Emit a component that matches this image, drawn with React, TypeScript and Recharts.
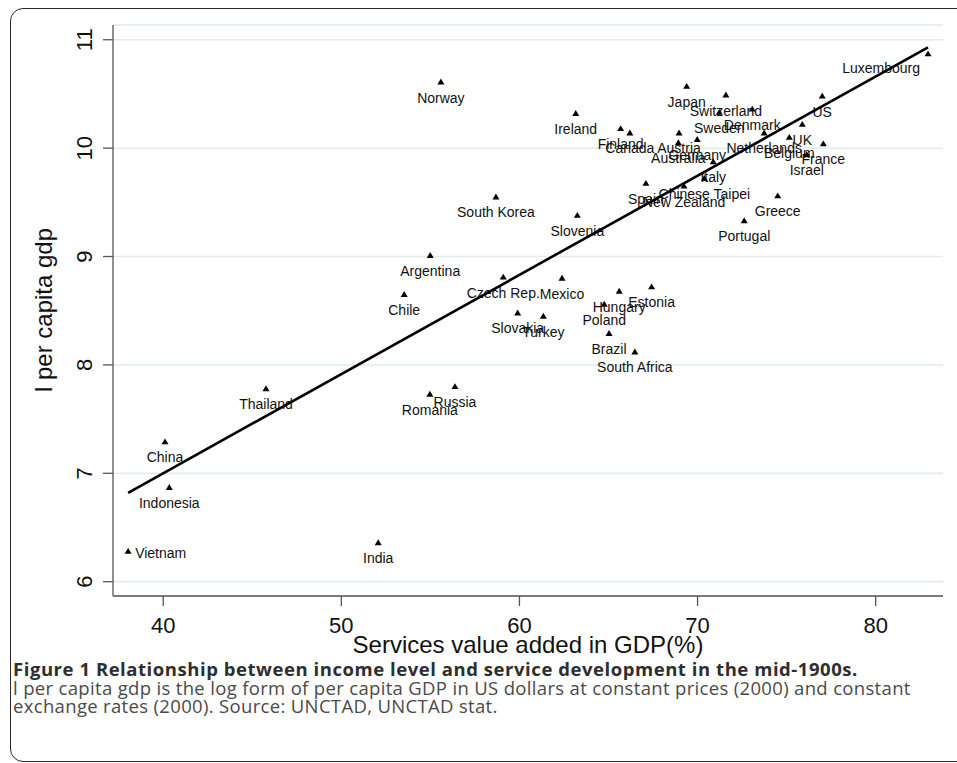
import React from 'react';
import { ScatterChart, Scatter, XAxis, YAxis, CartesianGrid } from 'recharts';

const countries = [
  'Luxembourg', 'Norway', 'Japan', 'Switzerland', 'Denmark', 'Sweden', 'Ireland', 'Finland',
  'Canada', 'Austria', 'Australia', 'Germany', 'Netherlands', 'Italy', 'Chinese Taipei',
  'New Zealand', 'Spain', 'US', 'UK', 'Belgium', 'France', 'Israel', 'Greece', 'Portugal',
  'South Korea', 'Slovenia', 'Argentina', 'Chile', 'Czech Rep.', 'Mexico', 'Hungary',
  'Estonia', 'Poland', 'Slovakia', 'Turkey', 'Brazil', 'South Africa', 'Thailand', 'Russia',
  'Romania', 'China', 'Indonesia', 'Vietnam', 'India',
];

const servicesShare = [
  82.94, 55.59, 69.39, 71.59, 73.07, 71.22, 63.16, 65.68,
  66.2, 68.96, 68.92, 69.98, 73.74, 70.88, 70.38,
  69.24, 67.1, 77.0, 75.88, 75.15, 77.06, 76.13, 74.5, 72.62,
  58.68, 63.25, 54.99, 53.53, 59.09, 62.39, 65.6,
  67.42, 64.76, 59.9, 61.34, 65.03, 66.48, 45.77, 56.38,
  54.97, 40.1, 40.34, 38.03, 52.07,
];

const logGdp = [
  10.87, 10.61, 10.57, 10.49, 10.36, 10.33, 10.32, 10.18,
  10.14, 10.14, 10.05, 10.08, 10.14, 9.875, 9.72,
  9.65, 9.675, 10.48, 10.22, 10.1, 10.04, 9.94, 9.56, 9.33,
  9.55, 9.38, 9.01, 8.65, 8.81, 8.8, 8.68,
  8.72, 8.56, 8.48, 8.45, 8.29, 8.12, 7.78, 7.8,
  7.73, 7.29, 6.87, 6.28, 6.36,
];

const fitX = [38.03, 82.94];
const fitY = [6.82, 10.93];

const xTicks = [40, 50, 60, 70, 80];
const yTicks = [6, 7, 8, 9, 10, 11];

const labelSide: Record<string, string> = { Vietnam: 'right', Luxembourg: 'left' };

const SANS = '"Liberation Sans", Arial, Helvetica, sans-serif';
const CAP = '"Open Sans", "Noto Sans", sans-serif';

const XTick = (props: any) => {
  const { x, y, payload } = props;
  return (
    <text x={x} y={y + 25} textAnchor="middle" fontFamily={SANS} fontSize={22} fill="#111">
      {payload.value}
    </text>
  );
};

const YTick = (props: any) => {
  const { x, y, payload } = props;
  const px = x - 9;
  return (
    <text x={px} y={y} textAnchor="middle" transform={`rotate(-90 ${px} ${y})`} fontFamily={SANS} fontSize={22} fill="#111">
      {payload.value}
    </text>
  );
};

const Marker = (props: any) => {
  const { cx, cy, payload } = props;
  if (cx == null || cy == null) return <g />;
  const side = labelSide[payload.name];
  let label;
  if (side === 'right') {
    label = (
      <text x={cx + 7} y={cy + 7} textAnchor="start" fontFamily={SANS} fontSize={14} fill="#111">{payload.name}</text>
    );
  } else if (side === 'left') {
    label = (
      <text x={cx - 8} y={cy + 19} textAnchor="end" fontFamily={SANS} fontSize={14} fill="#111">{payload.name}</text>
    );
  } else {
    label = (
      <text x={cx} y={cy + 20.5} textAnchor="middle" fontFamily={SANS} fontSize={14} fill="#111">{payload.name}</text>
    );
  }
  return (
    <g>
      <polygon points={`${cx},${cy - 3.4} ${cx - 3.5},${cy + 2.5} ${cx + 3.5},${cy + 2.5}`} fill="#000" />
      {label}
    </g>
  );
};

export default function App() {
  const points = countries.map((name, i) => ({ name, x: servicesShare[i], y: logGdp[i] }));
  const fit = fitX.map((x, i) => ({ x, y: fitY[i] }));
  return (
    <div style={{ position: 'absolute', left: 0, top: 0, width: 957, height: 763, overflow: 'hidden', background: '#fff' }}>
      <div
        style={{
          position: 'absolute', left: 10, top: 8, width: 990, height: 754,
          border: '1.5px solid #2a2a2a', borderRadius: 13, boxSizing: 'border-box',
        }}
      />
      <div style={{ position: 'absolute', left: 0, top: 0 }}>
        <ScatterChart width={957} height={763} margin={{ top: 25, right: 14, bottom: 137, left: 53 }}>
          <CartesianGrid horizontal vertical={false} stroke="#e2ebee" strokeWidth={1.5} />
          <XAxis
            type="number"
            dataKey="x"
            domain={[37.18, 83.78]}
            ticks={xTicks}
            allowDataOverflow
            height={30}
            tickSize={10}
            tickMargin={2}
            tick={<XTick />}
            axisLine={{ stroke: '#555', strokeWidth: 1.3 }}
            tickLine={{ stroke: '#555', strokeWidth: 1.3 }}
          />
          <YAxis
            type="number"
            dataKey="y"
            domain={[5.868, 11.136]}
            ticks={yTicks}
            allowDataOverflow
            width={60}
            tickSize={10}
            tickMargin={2}
            tick={<YTick />}
            axisLine={{ stroke: '#555', strokeWidth: 1.3 }}
            tickLine={{ stroke: '#555', strokeWidth: 1.3 }}
          />
          <Scatter data={points} shape={<Marker />} isAnimationActive={false} />
          <Scatter
            data={fit}
            line={{ stroke: '#000', strokeWidth: 2.6 }}
            shape={() => <g />}
            isAnimationActive={false}
          />
        </ScatterChart>
      </div>
      <svg width={957} height={763} style={{ position: 'absolute', left: 0, top: 0, pointerEvents: 'none' }}>
        <text x={528} y={653} textAnchor="middle" fontFamily={SANS} fontSize={24} fill="#111">
          Services value added in GDP(%)
        </text>
        <text x={43} y={310} textAnchor="middle" dominantBaseline="central" transform="rotate(-90 43 310)" fontFamily={SANS} fontSize={24} fill="#111">
          l per capita gdp
        </text>
      </svg>
      <div style={{ position: 'absolute', left: 13, top: 660, fontFamily: CAP, fontSize: 18.5, lineHeight: '18.7px', letterSpacing: '0.33px', color: '#4a4a4a', whiteSpace: 'nowrap' }}>
        <div style={{ fontWeight: 700, color: '#2e2e2e', letterSpacing: '0.55px' }}>
          Figure 1 Relationship between income level and service development in the mid-1900s.
        </div>
        <div>
          l per capita gdp is the log form of per capita GDP in US dollars at constant prices (2000) and constant
        </div>
        <div>exchange rates (2000). Source: UNCTAD, UNCTAD stat.</div>
      </div>
    </div>
  );
}
